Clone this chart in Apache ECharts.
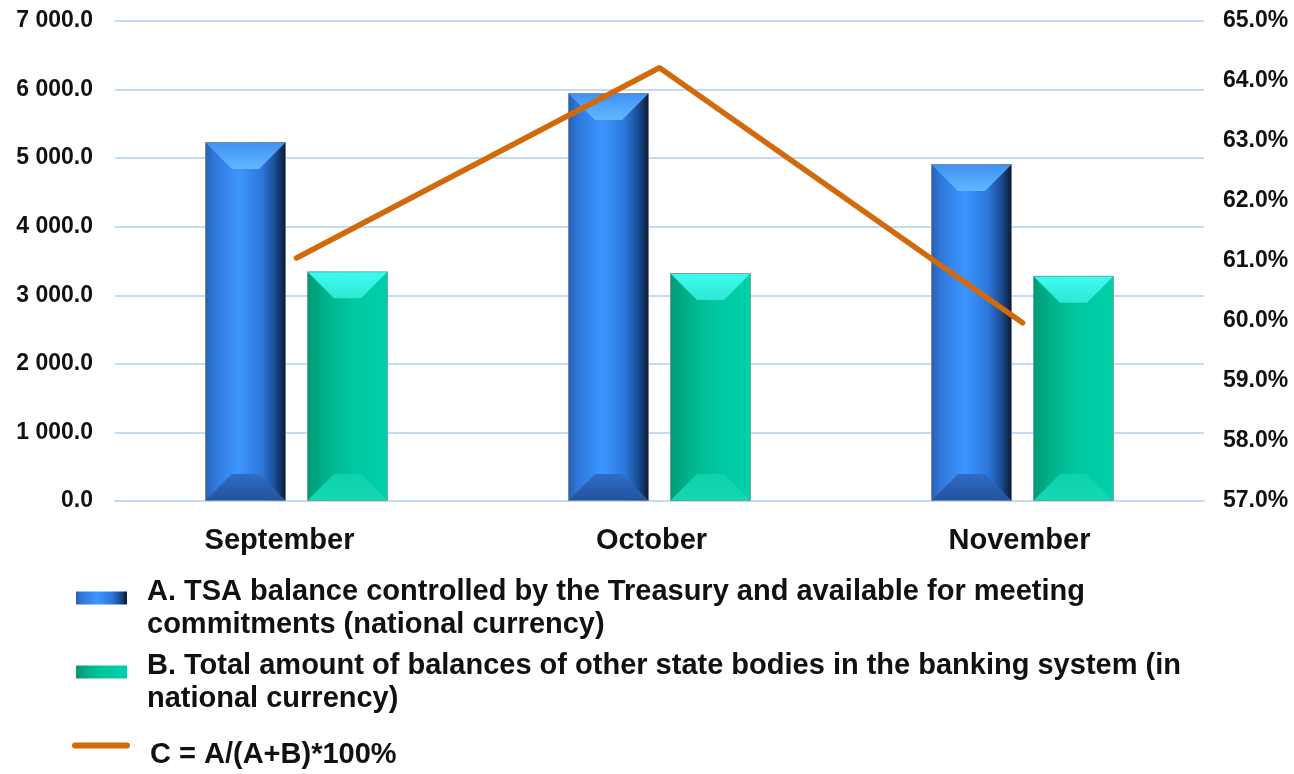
<!DOCTYPE html>
<html>
<head>
<meta charset="utf-8">
<script src="https://cdn.jsdelivr.net/npm/echarts@6/dist/echarts.min.js"></script>
<style>
html,body{margin:0;padding:0;background:#fff;}
#chart{width:1294px;height:774px;}
</style>
</head>
<body>
<div id="chart"></div>
<script>
const categories = ['September', 'October', 'November'];
const seriesA = [5235, 5950, 4915];
const seriesB = [3350, 3325, 3285];
const seriesC = [61.05, 64.22, 59.97];
const nameA = 'A. TSA balance controlled by the Treasury and available for meeting commitments (national currency)';
const nameB = 'B. Total amount of balances of other state bodies in the banking system (in national currency)';
const nameC = 'C = A/(A+B)*100%';

const FONT = '"Liberation Sans", Arial, sans-serif';
const BAR_W = 81;
const BAR_GAP = 21;
const BEVEL = 27;

function fmtThousands(v) {
  const s = Math.abs(v).toFixed(1);
  const parts = s.split('.');
  parts[0] = parts[0].replace(/\B(?=(\d{3})+(?!\d))/g, ' ');
  return (v < 0 ? '-' : '') + parts.join('.');
}

const blueBody = new echarts.graphic.LinearGradient(0, 0, 1, 0, [
  {offset: 0, color: '#2a5fb0'},
  {offset: 0.12, color: '#2f78dc'},
  {offset: 0.42, color: '#3d95ff'},
  {offset: 0.7, color: '#2c78dc'},
  {offset: 0.86, color: '#1c4e98'},
  {offset: 1, color: '#0a1830'}
]);
const tealBody = new echarts.graphic.LinearGradient(0, 0, 1, 0, [
  {offset: 0, color: '#009a76'},
  {offset: 0.25, color: '#00b48c'},
  {offset: 0.55, color: '#00c7a0'},
  {offset: 1, color: '#00d0aa'}
]);

function bevelRenderer(which) {
  return function (params, api) {
    const idx = api.value(0);
    const val = api.value(1);
    const top = api.coord([idx, val]);
    const base = api.coord([idx, 0]);
    const cx = top[0];
    const total = 2 * BAR_W + BAR_GAP;
    const x0 = which === 0 ? cx - total / 2 : cx - total / 2 + BAR_W + BAR_GAP;
    const x1 = x0 + BAR_W;
    const yT = top[1];
    const yB = base[1];
    const b = Math.min(BEVEL, (yB - yT) / 2);
    const topFill = which === 0
      ? new echarts.graphic.LinearGradient(0, 0, 0, 1, [{offset: 0, color: '#3f92f4'}, {offset: 1, color: '#62b8ff'}])
      : new echarts.graphic.LinearGradient(0, 0, 0, 1, [{offset: 0, color: '#3ffaf0'}, {offset: 1, color: '#2ee8d4'}]);
    const botFill = which === 0
      ? new echarts.graphic.LinearGradient(0, 0, 0, 1, [{offset: 0, color: '#2f6cc4'}, {offset: 1, color: '#24539e'}])
      : new echarts.graphic.LinearGradient(0, 0, 0, 1, [{offset: 0, color: '#0cd2ad'}, {offset: 1, color: '#14d8b2'}]);
    return {
      type: 'group',
      children: [
        {
          type: 'polygon',
          shape: {points: [[x0 + 1, yT + 1], [x1 - 1, yT + 1], [x1 - b, yT + b], [x0 + b, yT + b]]},
          style: {fill: topFill}
        },
        {
          type: 'polygon',
          shape: {points: [[x0 + b, yB - b], [x1 - b, yB - b], [x1 - 1, yB - 1], [x0 + 1, yB - 1]]},
          style: {fill: botFill}
        }
      ]
    };
  };
}

const legendText = {fontFamily: FONT, fontSize: 29, fontWeight: 'bold', color: '#111', width: 1050, overflow: 'break', lineHeight: 33, padding: [0, 0, 0, 15]};
const barIcon = 'path://M0,0 L51,0 L51,13 L0,13 Z M0,33 L51,33 Z';
const lineIcon = 'path://M3,0 L55,0 A3,3 0 0 1 55,6 L3,6 A3,3 0 0 1 3,0 Z M0,24 L58,24 Z';

function barLegend(name, top) {
  return {
    data: [{name: name, icon: barIcon}],
    orient: 'vertical',
    left: 76,
    top: top,
    padding: 0,
    itemWidth: 51,
    itemHeight: 33,
    symbolKeepAspect: false,
    selectedMode: false,
    itemStyle: {borderWidth: 0},
    textStyle: legendText
  };
}

const labelShift = {September: 'c0', October: 'c1', November: 'c2'};
const catLabelBase = {fontFamily: FONT, fontSize: 29, fontWeight: 'bold', color: '#111'};

const chart = echarts.init(document.getElementById('chart'));
chart.setOption({
  backgroundColor: '#ffffff',
  animation: false,
  textStyle: {fontFamily: FONT},
  grid: {left: 115, right: 90, top: 21, bottom: 273, containLabel: false},
  legend: [
    barLegend(nameA, 575),
    barLegend(nameB, 649),
    {
      data: [{name: nameC, icon: lineIcon}],
      orient: 'vertical',
      left: 72,
      top: 738,
      padding: 0,
      itemWidth: 58,
      itemHeight: 24,
      symbolKeepAspect: false,
      selectedMode: false,
      itemStyle: {borderWidth: 0},
      textStyle: legendText
    }
  ],
  xAxis: {
    type: 'category',
    data: categories,
    axisLine: {show: true, lineStyle: {color: '#c2dcf8', width: 2}},
    axisTick: {show: false},
    axisLabel: {
      margin: 25,
      formatter: v => '{' + (labelShift[v] || 'c1') + '|' + v + '}',
      rich: {
        c0: Object.assign({padding: [0, 34, 0, 0]}, catLabelBase),
        c1: Object.assign({padding: [0, 16, 0, 0]}, catLabelBase),
        c2: Object.assign({padding: [0, 6, 0, 0]}, catLabelBase)
      }
    }
  },
  yAxis: [
    {
      type: 'value',
      min: 0, max: 7000, interval: 1000,
      axisLine: {show: false},
      axisTick: {show: false},
      splitLine: {show: true, lineStyle: {color: '#c2dcf8', width: 2}},
      axisLabel: {fontFamily: FONT, fontSize: 23, fontWeight: 'bold', color: '#111', margin: 22, formatter: fmtThousands}
    },
    {
      type: 'value',
      min: 57, max: 65, interval: 1,
      position: 'right',
      axisLine: {show: false},
      axisTick: {show: false},
      splitLine: {show: false},
      axisLabel: {fontFamily: FONT, fontSize: 23, fontWeight: 'bold', color: '#111', margin: 19, formatter: v => v.toFixed(1) + '%'}
    }
  ],
  series: [
    {
      name: nameA,
      type: 'bar',
      data: seriesA,
      barWidth: BAR_W,
      barGap: (BAR_GAP / BAR_W * 100) + '%',
      itemStyle: {color: blueBody, borderColor: 'rgba(110,120,140,0.7)', borderWidth: 1},
      z: 2
    },
    {
      name: nameB,
      type: 'bar',
      data: seriesB,
      barWidth: BAR_W,
      itemStyle: {color: tealBody, borderColor: 'rgba(110,130,130,0.6)', borderWidth: 1},
      z: 2
    },
    {
      name: 'bevelA',
      type: 'custom',
      silent: true,
      data: seriesA.map((v, i) => [i, v]),
      renderItem: bevelRenderer(0),
      z: 3
    },
    {
      name: 'bevelB',
      type: 'custom',
      silent: true,
      data: seriesB.map((v, i) => [i, v]),
      renderItem: bevelRenderer(1),
      z: 3
    },
    {
      name: nameC,
      type: 'line',
      yAxisIndex: 1,
      data: seriesC,
      showSymbol: false,
      symbol: 'none',
      lineStyle: {color: '#d26a0c', width: 5.5, cap: 'round', join: 'round'},
      itemStyle: {color: '#d26a0c'},
      z: 5
    }
  ]
});
</script>
</body>
</html>
